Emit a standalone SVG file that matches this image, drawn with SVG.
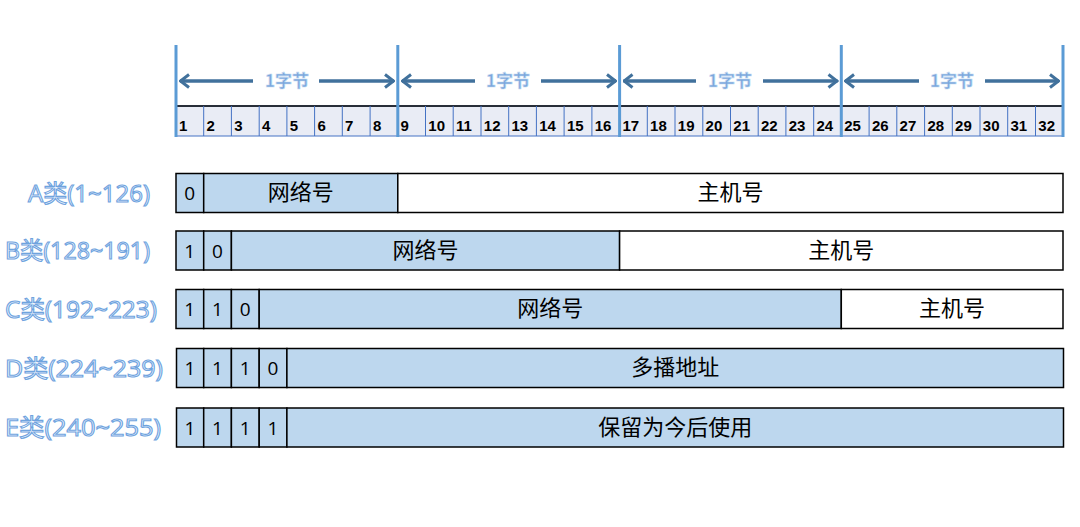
<svg xmlns="http://www.w3.org/2000/svg" width="1080" height="527" viewBox="0 0 1080 527">
<style>
.bg{fill:#ffffff}
.cell{fill:#e9ecf5;stroke:#4472c4;stroke-width:1}
.bit{font-family:"Liberation Sans","DejaVu Sans",sans-serif;font-size:15px;font-weight:bold;fill:#000}
.div{stroke:#5b9bd5;stroke-width:3}
.arr{stroke:#41719c;stroke-width:3.5;fill:none}
.byte{font-family:"Noto Sans CJK SC",sans-serif;font-size:17px;font-weight:bold;fill:#7ba7dc;stroke:#c5daf2;stroke-width:0.6;text-anchor:middle}
.blue{fill:#bdd7ee;stroke:#000;stroke-width:1.5}
.white{fill:#ffffff;stroke:#000;stroke-width:1.5}
.num{font-family:"Open Sans","Liberation Sans",sans-serif;font-size:19px;fill:#000;text-anchor:middle}
.cn{font-family:"Noto Sans CJK SC",sans-serif;font-size:22px;fill:#000;text-anchor:middle}
.lab{font-family:"Open Sans","Noto Sans CJK SC",sans-serif;font-size:24px;fill:#f3f8fe;stroke:#6fa3de;stroke-width:1.1}
</style>
<defs>
<marker id="ah" viewBox="0 0 12 16" refX="11" refY="8" markerWidth="12" markerHeight="16" orient="auto-start-reverse" markerUnits="userSpaceOnUse">
<path d="M2,1.5 L10.5,8 L2,14.5" fill="none" stroke="#41719c" stroke-width="3"/>
</marker>
</defs>
<rect class="bg" x="0" y="0" width="1080" height="527"/>
<g id="ruler">
<g id="cells">
<rect class="cell" x="176" y="106" width="887" height="30"/>
<line x1="176" y1="106" x2="1063" y2="106" stroke="#000" stroke-width="1.5"/>
<g stroke="#4472c4" stroke-width="1">
<line x1="203.7" y1="106" x2="203.7" y2="136"/><line x1="231.4" y1="106" x2="231.4" y2="136"/><line x1="259.2" y1="106" x2="259.2" y2="136"/><line x1="286.9" y1="106" x2="286.9" y2="136"/><line x1="314.6" y1="106" x2="314.6" y2="136"/><line x1="342.3" y1="106" x2="342.3" y2="136"/><line x1="370.1" y1="106" x2="370.1" y2="136"/>
<line x1="425.5" y1="106" x2="425.5" y2="136"/><line x1="453.2" y1="106" x2="453.2" y2="136"/><line x1="481" y1="106" x2="481" y2="136"/><line x1="508.7" y1="106" x2="508.7" y2="136"/><line x1="536.4" y1="106" x2="536.4" y2="136"/><line x1="564.1" y1="106" x2="564.1" y2="136"/><line x1="591.9" y1="106" x2="591.9" y2="136"/>
<line x1="647.3" y1="106" x2="647.3" y2="136"/><line x1="675" y1="106" x2="675" y2="136"/><line x1="702.8" y1="106" x2="702.8" y2="136"/><line x1="730.5" y1="106" x2="730.5" y2="136"/><line x1="758.2" y1="106" x2="758.2" y2="136"/><line x1="785.9" y1="106" x2="785.9" y2="136"/><line x1="813.7" y1="106" x2="813.7" y2="136"/>
<line x1="869.1" y1="106" x2="869.1" y2="136"/><line x1="896.8" y1="106" x2="896.8" y2="136"/><line x1="924.6" y1="106" x2="924.6" y2="136"/><line x1="952.3" y1="106" x2="952.3" y2="136"/><line x1="980" y1="106" x2="980" y2="136"/><line x1="1007.7" y1="106" x2="1007.7" y2="136"/><line x1="1035.5" y1="106" x2="1035.5" y2="136"/>
</g>
</g>
<g id="bits" class="bit">
<text x="179" y="131">1</text><text x="206.5" y="131">2</text><text x="234.2" y="131">3</text><text x="262" y="131">4</text><text x="289.7" y="131">5</text><text x="317.4" y="131">6</text><text x="345.1" y="131">7</text><text x="372.9" y="131">8</text>
<text x="400.6" y="131">9</text><text x="428.3" y="131">10</text><text x="456" y="131">11</text><text x="483.8" y="131">12</text><text x="511.5" y="131">13</text><text x="539.2" y="131">14</text><text x="566.9" y="131">15</text><text x="594.7" y="131">16</text>
<text x="622.4" y="131">17</text><text x="650.1" y="131">18</text><text x="677.8" y="131">19</text><text x="705.6" y="131">20</text><text x="733.3" y="131">21</text><text x="761" y="131">22</text><text x="788.7" y="131">23</text><text x="816.5" y="131">24</text>
<text x="844.2" y="131">25</text><text x="871.9" y="131">26</text><text x="899.6" y="131">27</text><text x="927.4" y="131">28</text><text x="955.1" y="131">29</text><text x="982.8" y="131">30</text><text x="1010.5" y="131">31</text><text x="1038.3" y="131">32</text>
</g>
<g id="dividers" class="div">
<line x1="176" y1="45" x2="176" y2="137"/>
<line x1="397.8" y1="45" x2="397.8" y2="137"/>
<line x1="619.6" y1="45" x2="619.6" y2="137"/>
<line x1="841.3" y1="45" x2="841.3" y2="137"/>
<line x1="1063" y1="45" x2="1063" y2="137"/>
</g>
</g>
<g id="connectors">
<line class="arr" x1="180" y1="81" x2="253" y2="81" marker-start="url(#ah)"/>
<line class="arr" x1="319" y1="81" x2="394" y2="81" marker-end="url(#ah)"/>
<line class="arr" x1="402" y1="81" x2="475" y2="81" marker-start="url(#ah)"/>
<line class="arr" x1="541" y1="81" x2="616" y2="81" marker-end="url(#ah)"/>
<line class="arr" x1="623.5" y1="81" x2="696" y2="81" marker-start="url(#ah)"/>
<line class="arr" x1="763" y1="81" x2="837.5" y2="81" marker-end="url(#ah)"/>
<line class="arr" x1="845" y1="81" x2="919" y2="81" marker-start="url(#ah)"/>
<line class="arr" x1="985" y1="81" x2="1059" y2="81" marker-end="url(#ah)"/>
</g>
<g id="byte-labels" class="byte">
<text x="287" y="87">1字节</text>
<text x="508" y="87">1字节</text>
<text x="730" y="87">1字节</text>
<text x="952" y="87">1字节</text>
</g>
<g id="classA">
<text class="lab" x="28" y="202" textLength="122" lengthAdjust="spacingAndGlyphs">A类(1~126)</text>
<rect class="blue" x="176" y="173.5" width="27.7" height="39"/>
<rect class="blue" x="203.7" y="173.5" width="194.1" height="39"/>
<rect class="white" x="397.8" y="173.5" width="665.2" height="39"/>
<text class="num" x="189.8" y="200">0</text>
<text class="cn" x="300.7" y="200">网络号</text>
<text class="cn" x="730.4" y="200">主机号</text>
</g>
<g id="classB">
<text class="lab" x="5" y="259" textLength="145" lengthAdjust="spacingAndGlyphs">B类(128~191)</text>
<rect class="blue" x="176" y="231" width="27.7" height="39"/>
<rect class="blue" x="203.7" y="231" width="27.7" height="39"/>
<rect class="blue" x="231.4" y="231" width="388.2" height="39"/>
<rect class="white" x="619.6" y="231" width="443.4" height="39"/>
<text class="num" x="189.8" y="257.5">1</text>
<text class="num" x="217.5" y="257.5">0</text>
<text class="cn" x="425.5" y="257.5">网络号</text>
<text class="cn" x="841.3" y="257.5">主机号</text>
</g>
<g id="classC">
<text class="lab" x="5" y="318" textLength="152" lengthAdjust="spacingAndGlyphs">C类(192~223)</text>
<rect class="blue" x="176" y="289.5" width="27.7" height="39"/>
<rect class="blue" x="203.7" y="289.5" width="27.7" height="39"/>
<rect class="blue" x="231.4" y="289.5" width="27.8" height="39"/>
<rect class="blue" x="259.2" y="289.5" width="582.1" height="39"/>
<rect class="white" x="841.3" y="289.5" width="221.7" height="39"/>
<text class="num" x="189.8" y="316">1</text>
<text class="num" x="217.5" y="316">1</text>
<text class="num" x="245.3" y="316">0</text>
<text class="cn" x="550.2" y="316">网络号</text>
<text class="cn" x="952.1" y="316">主机号</text>
</g>
<g id="classD">
<text class="lab" x="5" y="377" textLength="158" lengthAdjust="spacingAndGlyphs">D类(224~239)</text>
<rect class="blue" x="176.5" y="348.5" width="27.2" height="39"/>
<rect class="blue" x="203.7" y="348.5" width="27.7" height="39"/>
<rect class="blue" x="231.4" y="348.5" width="27.8" height="39"/>
<rect class="blue" x="259.2" y="348.5" width="27.7" height="39"/>
<rect class="blue" x="286.9" y="348.5" width="776.6" height="39"/>
<text class="num" x="190" y="375">1</text>
<text class="num" x="217.5" y="375">1</text>
<text class="num" x="245.3" y="375">1</text>
<text class="num" x="273" y="375">0</text>
<text class="cn" x="675.2" y="375">多播地址</text>
</g>
<g id="classE">
<text class="lab" x="5" y="436" textLength="156" lengthAdjust="spacingAndGlyphs">E类(240~255)</text>
<rect class="blue" x="176.5" y="408" width="27.2" height="39"/>
<rect class="blue" x="203.7" y="408" width="27.7" height="39"/>
<rect class="blue" x="231.4" y="408" width="27.8" height="39"/>
<rect class="blue" x="259.2" y="408" width="27.7" height="39"/>
<rect class="blue" x="286.9" y="408" width="776.6" height="39"/>
<text class="num" x="190" y="434.5">1</text>
<text class="num" x="217.5" y="434.5">1</text>
<text class="num" x="245.3" y="434.5">1</text>
<text class="num" x="273" y="434.5">1</text>
<text class="cn" x="675.2" y="434.5">保留为今后使用</text>
</g>
</svg>
